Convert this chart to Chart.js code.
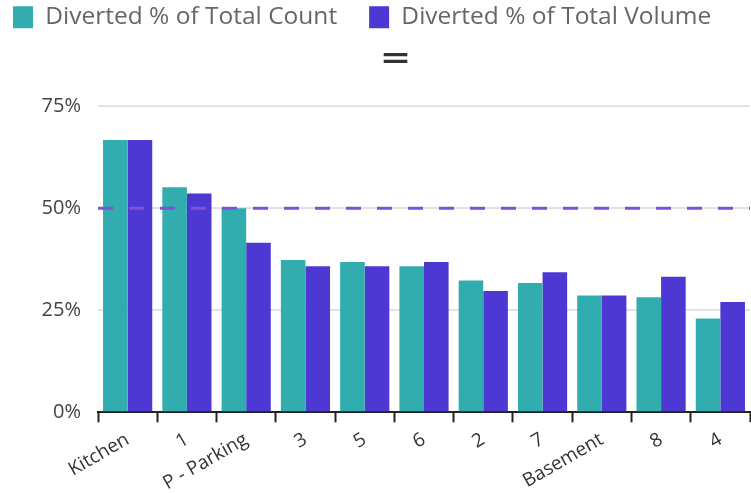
<!DOCTYPE html>
<html>
<head>
<meta charset="utf-8">
<script src="https://cdn.jsdelivr.net/npm/chart.js@4/dist/chart.umd.min.js"></script>
<style>
  body { margin: 0; background: #fff; }
  #chart { display: block; }
</style>
</head>
<body>
<canvas id="chart" width="751" height="493"></canvas>
<script>
// Données
const categories = ["Kitchen", "1", "P - Parking", "3", "5", "6", "2", "7", "Basement", "8", "4"];
const countPct = [66.7, 55.1, 50.0, 37.3, 36.8, 35.8, 32.3, 31.7, 28.6, 28.2, 23.0];
const volumePct = [66.7, 53.6, 41.5, 35.8, 35.8, 36.8, 29.7, 34.3, 28.6, 33.2, 27.0];
const seriesNames = ["Diverted % of Total Count", "Diverted % of Total Volume"];
const targetPct = 50;
const yMax = 75;
const yStep = 25;

// Ligne d'objectif en pointillés
const targetLine = {
  id: "targetLine",
  afterDatasetsDraw(chart) {
    const y = chart.scales.y.getPixelForValue(targetPct);
    const area = chart.chartArea;
    const c = chart.ctx;
    c.save();
    c.strokeStyle = "#7b52d9";
    c.lineWidth = 3;
    c.setLineDash([15, 16]);
    c.beginPath();
    c.moveTo(area.left, y);
    c.lineTo(area.right, y);
    c.stroke();
    c.restore();
  },
};

new Chart(document.getElementById("chart"), {
  type: "bar",
  data: {
    labels: categories,
    datasets: [
      {
        label: seriesNames[0],
        data: countPct,
        backgroundColor: "#32adaf",
        categoryPercentage: 0.83,
        barPercentage: 1.0,
      },
      {
        label: seriesNames[1],
        data: volumePct,
        backgroundColor: "#4e38d4",
        categoryPercentage: 0.83,
        barPercentage: 1.0,
      },
    ],
  },
  options: {
    responsive: false,
    animation: false,
    devicePixelRatio: 1,
    layout: { padding: { left: -19, right: 1, top: -27, bottom: -8 } },
    plugins: {
      legend: {
        position: "top",
        align: "start",
        labels: {
          boxWidth: 20,
          boxHeight: 22,
          padding: 32,
          color: "#666",
          font: { family: "'Open Sans'", size: 24.5 },
        },
      },
      subtitle: {
        display: true,
        // poignée "=" un peu à droite du centre
        text: "\u00a0\u00a0\u00a0\u00a0\u00a0═",
        color: "#333",
        weight: 500,
        font: { family: "'DejaVu Sans'", size: 38 },
        padding: { top: -1, bottom: 22 },
      },
      tooltip: { enabled: false },
    },
    scales: {
      x: {
        grid: {
          display: true,
          drawOnChartArea: false,
          drawTicks: true,
          tickLength: 10,
          tickColor: "#222",
          tickWidth: 2,
        },
        border: { display: true, color: "#222", width: 2 },
        ticks: {
          autoSkip: false,
          minRotation: 30,
          maxRotation: 30,
          padding: 6,
          color: "#333",
          font: { family: "'Open Sans'", size: 19 },
        },
      },
      y: {
        min: 0,
        max: yMax,
        border: { display: false },
        grid: { color: "#e2e2e2", lineWidth: 2, drawTicks: false },
        afterFit: (scale) => {
          scale.width = 117;
        },
        ticks: {
          stepSize: yStep,
          padding: 17,
          color: "#444",
          font: { family: "'Open Sans'", size: 20 },
          callback: (v) => v + "%",
        },
      },
    },
  },
  plugins: [targetLine],
});
</script>
</body>
</html>
